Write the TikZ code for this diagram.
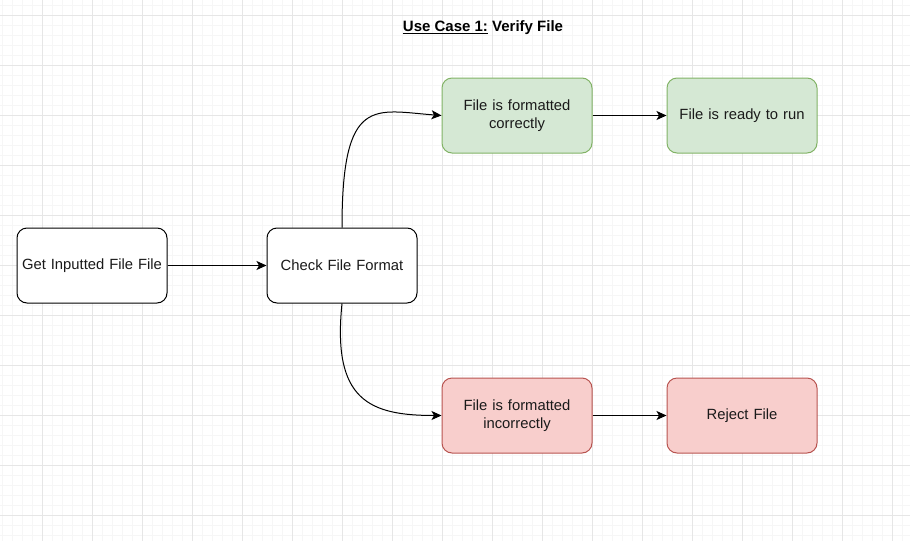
\documentclass[tikz,border=0pt]{standalone}
\usepackage{fontspec}
\setmainfont{Liberation Sans}
\usepackage{tikz}
\usepackage{xcolor}
\usetikzlibrary{arrows.meta}
\definecolor{GridMinor}{RGB}{246, 246, 246}
\definecolor{GridMajor}{RGB}{230, 230, 230}
\definecolor{OkFill}{RGB}{213, 232, 212}
\definecolor{OkLine}{RGB}{130, 179, 102}
\definecolor{BadFill}{RGB}{248, 206, 204}
\definecolor{BadLine}{RGB}{184, 84, 80}
\definecolor{TextGray}{RGB}{26, 26, 26}

\begin{document}
\begin{tikzpicture}[x = 1pt, y = -1pt,
    stepbox/.style = {draw, line width = 1pt, rounded corners = 10pt,
        minimum width = 150pt, minimum height = 75pt, align = center,
        text width = 146pt, inner xsep = 2pt, text = TextGray,
        font = \fontsize{14.8}{18.5}\selectfont},
    okbox/.style = {stepbox, fill = OkFill, draw = OkLine},
    badbox/.style = {stepbox, fill = BadFill, draw = BadLine},
    flow/.style = {-{Stealth[length = 10pt, width = 9pt, inset = 2.5pt]}, line width = 1pt}]
    %背景网格
    \useasboundingbox (0, 0) rectangle (910, 541);
    \fill[white] (0, 0) rectangle (910, 541);
    \foreach \gx in {2, 12, ..., 910} {
        \draw[GridMinor, line width = 0.8pt] (\gx, 0) -- (\gx, 541);
    }
    \foreach \gy in {5, 15, ..., 541} {
        \draw[GridMinor, line width = 0.8pt] (0, \gy) -- (910, \gy);
    }
    \foreach \gx in {42, 92, ..., 910} {
        \draw[GridMajor, line width = 0.8pt] (\gx, 0) -- (\gx, 541);
    }
    \foreach \gy in {15, 65, ..., 541} {
        \draw[GridMajor, line width = 0.8pt] (0, \gy) -- (910, \gy);
    }
    %标题
    \node[font = \fontsize{15}{18}\selectfont\bfseries] (title) at (483, 28)
        {\underline{Use Case 1:} Verify File};
    %流程方块
    \node[stepbox, fill = white] (input) at (92, 265.5) {Get Inputted File File};
    \node[stepbox, fill = white] (check) at (342, 265.5) {Check File Format};
    \node[okbox] (good) at (517, 115.5) {File is formatted\\correctly};
    \node[okbox] (ready) at (742, 115.5) {File is ready to run};
    \node[badbox] (bad) at (517, 415.5) {File is formatted\\incorrectly};
    \node[badbox] (reject) at (742, 415.5) {Reject File};
    %连线
    \draw[flow] (input) -- (check);
    \draw[flow] (check.north) .. controls +(0, -133) and +(-67, -5) .. (good.west);
    \draw[flow] (check.south) .. controls +(-10, 97) and +(-72, 0) .. (bad.west);
    \draw[flow] (good) -- (ready);
    \draw[flow] (bad) -- (reject);
\end{tikzpicture}
\end{document}
